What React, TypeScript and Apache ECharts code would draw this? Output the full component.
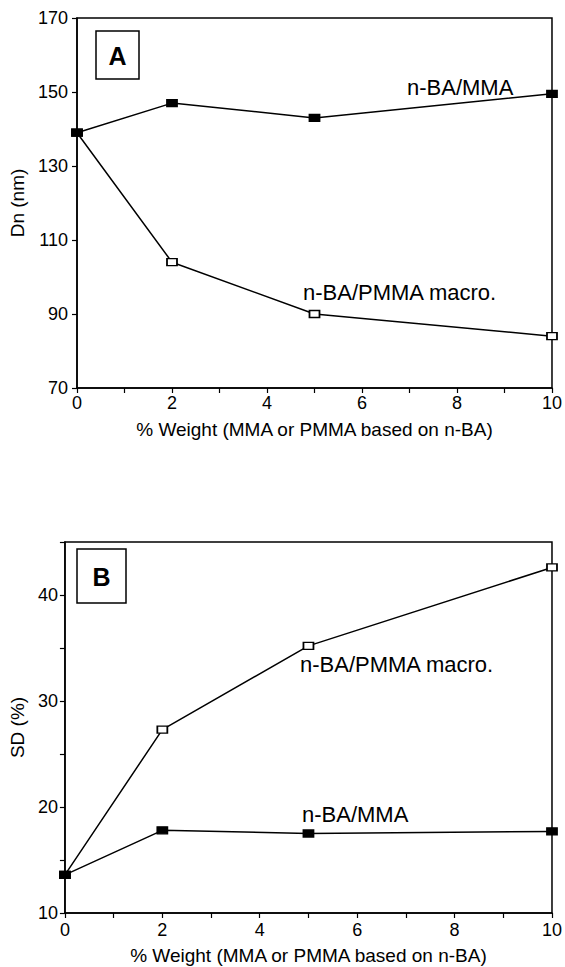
import React, { useEffect, useRef } from "react";
import * as echarts from "echarts";

const weights = [0, 2, 5, 10];
const dnMMA = [139, 147, 143, 149.5];
const dnPMMA = [139, 104, 90, 84];
const sdMMA = [13.6, 17.8, 17.5, 17.7];
const sdPMMA = [13.6, 27.3, 35.2, 42.6];

const xName = "% Weight (MMA or PMMA based on n-BA)";
const labelMMA = "n-BA/MMA";
const labelPMMA = "n-BA/PMMA macro.";

const FONT = "'Liberation Sans', Arial, Helvetica, sans-serif";

function pairs(xs: number[], ys: number[]) {
  return xs.map((x, i) => [x, ys[i]]);
}

export default function App() {
  const ref = useRef<HTMLDivElement>(null);
  useEffect(() => {
    if (!ref.current) return;
    const chart = echarts.init(ref.current, undefined, { renderer: "svg" });
    const axisLine = { show: true, lineStyle: { color: "#000", width: 1.5 } };
    const tick = { show: true, inside: false, length: 5, lineStyle: { color: "#000", width: 1.2 } };
    const xAxisCommon = (gridIndex: number, margin: number, nameGap: number) => ({
      type: "value",
      gridIndex,
      min: 0,
      max: 10,
      interval: 1,
      name: xName,
      nameLocation: "middle",
      nameGap,
      nameTextStyle: { color: "#000", fontSize: 19, fontFamily: FONT },
      axisLine,
      axisTick: tick,
      splitLine: { show: false },
      axisLabel: {
        color: "#000",
        fontSize: 18,
        fontFamily: FONT,
        margin,
        formatter: (v: number) => (v % 2 === 0 ? String(v) : ""),
      },
    });
    const lineSeries = (name: string, xi: number, data: number[][], filled: boolean) => ({
      type: "line",
      name,
      xAxisIndex: xi,
      yAxisIndex: xi,
      data,
      symbol: "rect",
      symbolSize: [10, 7],
      lineStyle: { color: "#000", width: 1.5 },
      itemStyle: { color: filled ? "#000" : "#fff", borderColor: "#000", borderWidth: 1.5 },
      z: filled ? 3 : 2,
    });
    const labelText = (text: string, x: number, y: number) => ({
      type: "text",
      x,
      y,
      style: { text, fill: "#000", font: `22px ${FONT}`, align: "left", verticalAlign: "middle" },
      z: 10,
    });
    chart.setOption({
      animation: false,
      backgroundColor: "#fff",
      grid: [
        { left: 77, top: 18, width: 476, height: 370, show: true, borderColor: "#000", borderWidth: 1.5, backgroundColor: "transparent" },
        { left: 62, top: 542, width: 491, height: 371, show: true, borderColor: "#000", borderWidth: 1.5, backgroundColor: "transparent" },
      ],
      xAxis: [xAxisCommon(0, 6, 32), xAxisCommon(1, 8, 33)],
      yAxis: [
        {
          type: "value",
          gridIndex: 0,
          min: 70,
          max: 170,
          interval: 20,
          name: "Dn (nm)",
          nameLocation: "middle",
          nameGap: 46,
          nameTextStyle: { color: "#000", fontSize: 19, fontFamily: FONT },
          axisLine,
          axisTick: tick,
          splitLine: { show: false },
          axisLabel: { color: "#000", fontSize: 18, fontFamily: FONT, margin: 9 },
        },
        {
          type: "value",
          gridIndex: 1,
          min: 10,
          max: 45,
          interval: 5,
          name: "SD (%)",
          nameLocation: "middle",
          nameGap: 34,
          nameTextStyle: { color: "#000", fontSize: 19, fontFamily: FONT },
          axisLine,
          axisTick: tick,
          splitLine: { show: false },
          axisLabel: {
            color: "#000",
            fontSize: 18,
            fontFamily: FONT,
            margin: 7,
            formatter: (v: number) => (v % 10 === 0 ? String(v) : ""),
          },
        },
      ],
      series: [
        lineSeries(labelPMMA, 0, pairs(weights, dnPMMA), false),
        lineSeries(labelMMA, 0, pairs(weights, dnMMA), true),
        lineSeries(labelPMMA, 1, pairs(weights, sdPMMA), false),
        lineSeries(labelMMA, 1, pairs(weights, sdMMA), true),
      ],
      graphic: [
        { type: "rect", shape: { x: 96, y: 31, width: 43, height: 48 }, style: { fill: "#fff", stroke: "#000", lineWidth: 1.5 }, z: 10 },
        { type: "text", x: 117.5, y: 56, style: { text: "A", fill: "#000", font: `bold 25px ${FONT}`, align: "center", verticalAlign: "middle" }, z: 11 },
        { type: "rect", shape: { x: 77, y: 549, width: 49, height: 54 }, style: { fill: "#fff", stroke: "#000", lineWidth: 1.5 }, z: 10 },
        { type: "text", x: 101.5, y: 577, style: { text: "B", fill: "#000", font: `bold 25px ${FONT}`, align: "center", verticalAlign: "middle" }, z: 11 },
        labelText(labelMMA, 407, 87),
        labelText(labelPMMA, 303, 292),
        labelText(labelPMMA, 300, 664),
        labelText(labelMMA, 302, 814),
      ],
    });
    return () => chart.dispose();
  }, []);
  return <div ref={ref} style={{ position: "absolute", left: 0, top: 0, width: 565, height: 967 }} />;
}
